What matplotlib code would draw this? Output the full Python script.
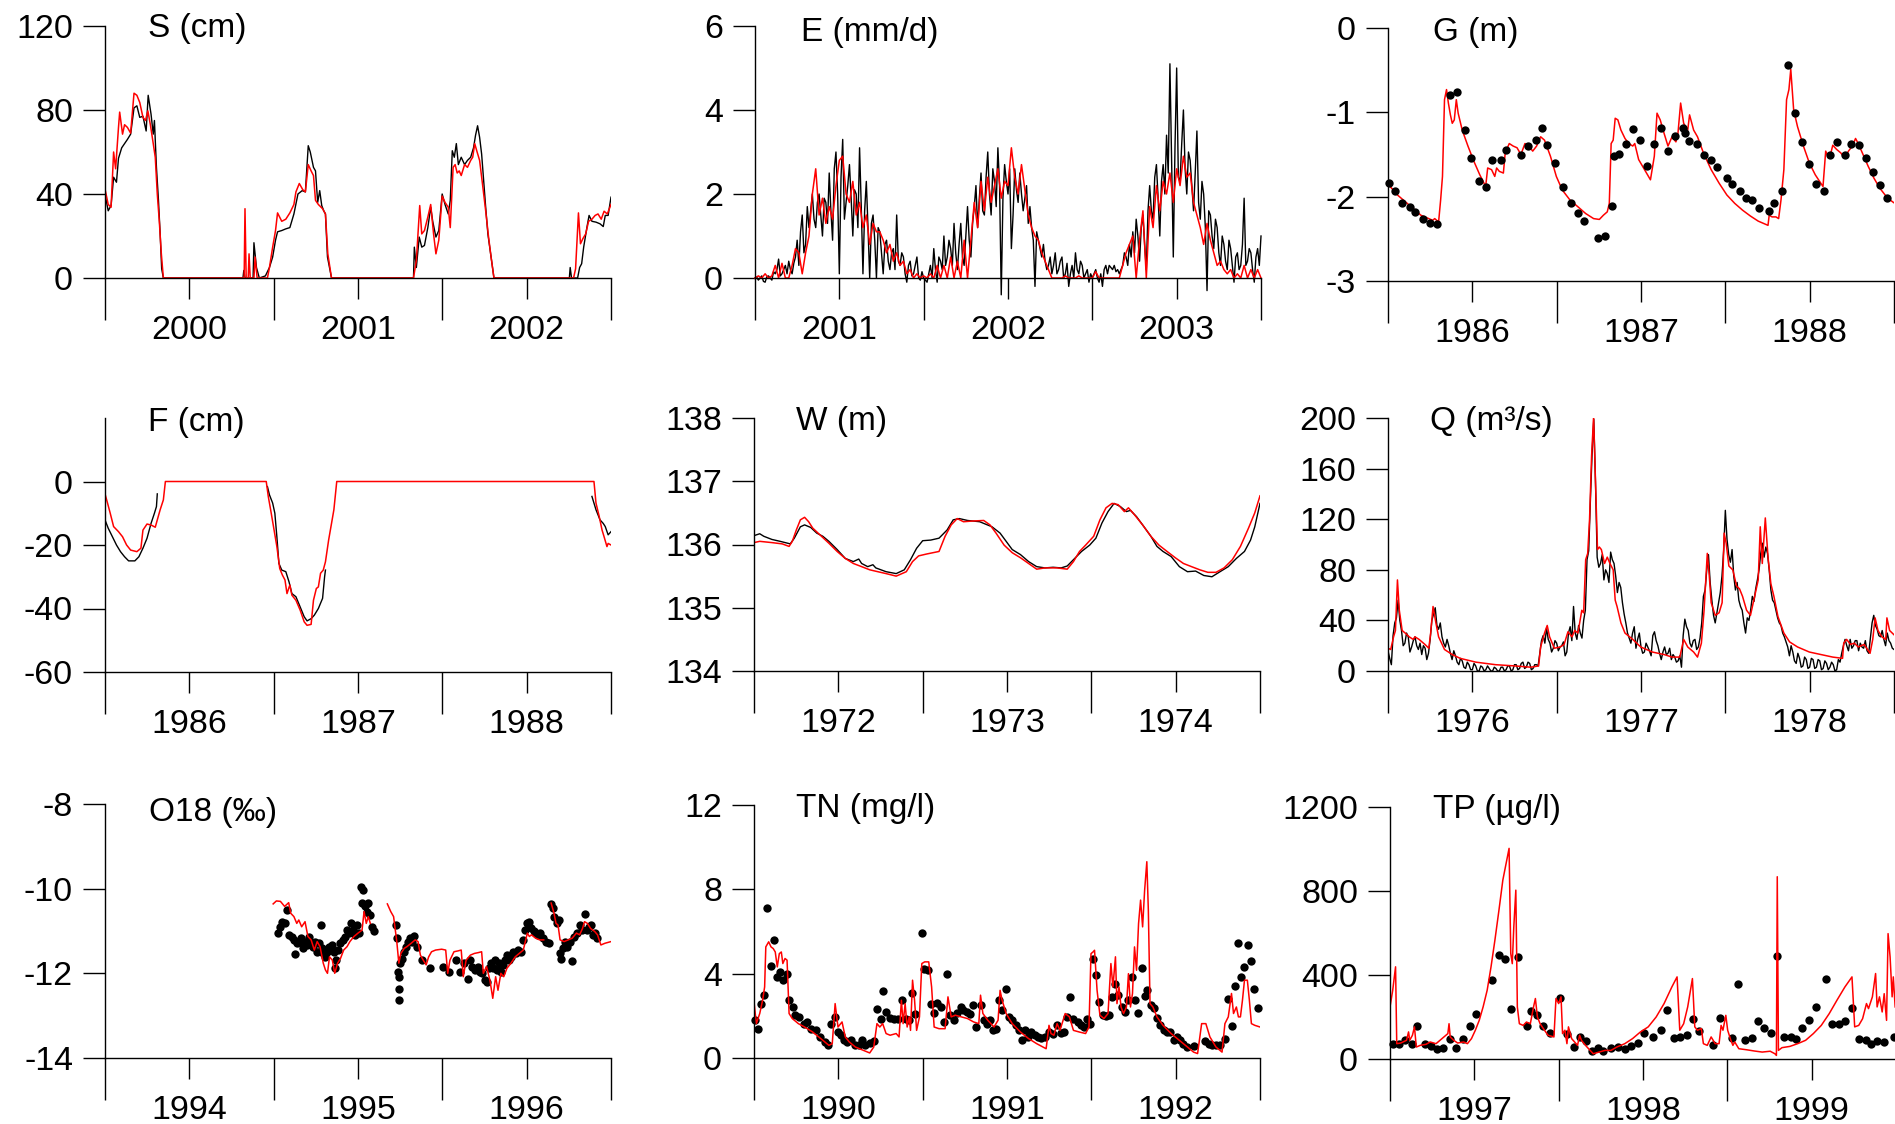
import numpy as np
import matplotlib
matplotlib.use("Agg")
import matplotlib.pyplot as plt
from matplotlib.ticker import NullLocator

plt.rcParams['font.family'] = ['Liberation Sans', 'DejaVu Sans']

NaN = float('nan')

# ---------------------------------------------------------------- data
# time = years since the first (left) year of each panel; value in panel units

# S (cm), 2000-2002
S_OBS = [(0.000,40),(0.019,32),(0.036,34.5),(0.051,48),(0.068,45.6),(0.080,57),(0.099,62),(0.116,64),(0.133,66),(0.152,68.5),
         (0.172,81),(0.189,82),(0.206,76.5),(0.225,77),(0.244,70),(0.256,87),(0.273,78),(0.286,68.5),(0.293,75),(0.305,52.7),
         (0.317,37),(0.327,21),(0.336,4.4),(0.346,0),
         (0.818,0),(0.823,3.6),(0.830,0),(0.878,0),(0.883,16.8),(0.898,5),(0.915,0),(0.951,1),(0.975,5),(0.994,10),
         (1.011,18),(1.023,22),(1.048,22.6),(1.072,23.4),(1.096,24),(1.120,30.5),(1.144,40),(1.169,41.6),(1.188,41),(1.205,63),
         (1.217,60),(1.236,52.7),(1.248,51),(1.261,36),(1.273,41.6),(1.285,34.5),(1.297,32),(1.307,30.5),(1.319,10),(1.343,0),
         (1.829,0),(1.834,14.7),(1.846,5),(1.863,19.5),(1.878,14.7),(1.894,15.5),(1.914,24),(1.931,33.7),(1.943,27),(1.962,19.5),
         (1.979,22.6),(1.999,40),(2.016,35),(2.035,30.5),(2.047,37),(2.059,60.6),(2.071,57.5),(2.083,64),(2.095,54),(2.112,57.5),
         (2.132,54),(2.149,56),(2.168,57.5),(2.185,62),(2.197,68),(2.209,72.5),(2.221,67),(2.233,59),(2.245,46.4),(2.257,33.7),
         (2.270,21),(2.289,10),(2.306,0),
         (2.753,0),(2.758,5),(2.766,0),(2.802,0),(2.814,5),(2.826,6.8),(2.838,14.7),(2.857,24),(2.870,29.8),(2.887,27),
         (2.911,26.6),(2.935,25.8),(2.954,24.5),(2.966,29.8),(2.983,29.8),(3.000,38.5)]
S_SIM = [(0.000,42.4),(0.019,35),(0.036,33.7),(0.051,60),(0.063,52),(0.080,71.7),(0.087,79),(0.104,68.5),(0.116,73),(0.133,71.7),
         (0.152,69),(0.172,88),(0.189,87),(0.206,83.6),(0.225,76.5),(0.240,75),(0.254,79.6),(0.269,73),(0.286,64),(0.298,57.5),
         (0.310,40),(0.322,27),(0.334,11.5),(0.346,0),
         (0.825,0),(0.830,33),(0.837,0),(0.849,0),(0.854,11.5),(0.861,0),(0.883,0),(0.890,10),(0.902,0),(0.963,0),
         (0.975,5),(0.994,14.7),(1.011,22.6),(1.023,31),(1.048,27),(1.072,28),(1.096,31),(1.120,35),(1.132,41),(1.152,45),
         (1.173,42),(1.188,41),(1.205,54),(1.222,51),(1.236,48.8),(1.248,37),(1.265,35),(1.290,33),(1.307,30.5),(1.321,11.5),(1.343,0),
         (1.829,0),(1.846,8.4),(1.866,34.5),(1.878,21),(1.894,22.6),(1.914,29),(1.931,35),(1.948,21),(1.962,11.5),(1.979,18),
         (1.999,39),(2.016,36),(2.035,33.7),(2.047,24),(2.064,52.7),(2.076,54),(2.088,50),(2.100,51),(2.112,48.8),(2.132,54),
         (2.149,52.7),(2.168,56),(2.180,57.5),(2.192,64),(2.204,60.6),(2.221,56),(2.238,44.8),(2.257,32),(2.274,19.5),(2.289,10),(2.306,0),
         (2.778,0),(2.790,4.4),(2.807,31),(2.819,16.3),(2.833,18.7),(2.850,21),(2.867,27),(2.887,28),(2.906,29.8),(2.923,30.5),
         (2.942,28),(2.959,31.8),(2.978,30.5),(3.000,35)]

# E (mm/d), 2001-2003; observed values every 0.01 yr, simulated every 0.02 yr
E_OBS = [0.0,0.02,-0.05,0.0,0.05,-0.08,-0.1,0.03,0.05,0.0,
         -0.05,0.15,0.1,0.2,0.45,0.05,0.1,0.2,0.3,0.1,
         0.4,0.2,0.1,0.35,0.5,0.9,0.3,1.1,1.5,0.6,
         0.8,1.7,1.2,1.6,2.0,1.4,1.2,1.8,2.0,1.5,
         1.0,1.9,1.8,1.3,2.5,1.6,0.9,2.6,3.0,2.0,
         0.1,2.4,3.3,1.4,1.8,2.2,2.7,1.9,1.0,2.1,
         2.0,1.2,3.1,1.7,0.1,1.6,2.3,1.2,0.0,1.3,
         1.5,0.9,0.0,1.2,1.1,0.6,0.1,0.8,0.9,0.4,
         0.2,0.6,0.7,0.2,1.5,0.4,0.3,0.6,0.5,0.1,
         -0.1,0.3,0.4,0.05,0.1,0.3,0.5,0.0,-0.05,0.15,
         0.0,-0.05,-0.1,0.1,0.3,0.0,0.7,0.2,-0.1,0.5,
         0.4,0.2,1.0,0.3,0.5,0.9,0.7,0.3,1.3,0.6,
         0.2,0.8,1.3,0.5,0.3,1.0,1.7,0.9,0.5,1.3,
         1.7,2.2,1.2,1.9,2.5,1.6,1.5,2.4,3.0,2.0,
         1.5,2.6,2.3,1.7,3.1,2.2,-0.4,1.9,2.7,2.3,
         2.0,2.6,0.7,1.5,2.6,2.1,1.8,2.5,2.0,1.6,
         1.9,2.2,1.3,1.7,1.2,0.9,-0.2,1.1,0.9,0.7,
         0.5,0.8,0.4,0.2,0.3,0.5,0.1,0.3,0.6,0.1,
         0.2,0.4,0.5,0.0,0.1,0.35,-0.2,0.1,0.3,0.0,
         0.6,0.2,0.1,0.4,0.3,0.0,0.1,0.2,-0.1,0.1,
         0.0,0.1,0.2,0.0,-0.1,0.1,-0.2,0.2,0.3,0.1,
         0.3,0.25,0.2,0.3,0.15,0.2,0.1,0.2,0.3,0.6,
         0.5,0.3,0.8,0.5,1.1,0.6,1.4,1.0,0.4,1.2,
         1.5,0.8,0.2,1.6,2.2,1.6,1.4,2.4,2.7,1.9,
         1.0,2.3,2.7,2.0,3.4,2.5,5.1,2.8,0.5,3.1,
         5.0,2.4,2.3,3.2,4.0,2.6,2.0,3.0,2.8,2.2,
         1.6,2.5,3.5,1.8,1.4,2.3,2.0,1.2,-0.3,1.6,
         1.5,1.0,0.7,1.4,1.2,0.6,0.3,1.0,0.8,0.4,
         0.2,0.9,0.7,0.3,-0.1,0.5,0.6,0.2,0.3,0.8,
         1.9,0.3,0.4,0.7,0.6,0.2,-0.1,0.5,0.7,0.3,
         1.0]
E_SIM = [0.0,0.05,0.0,0.1,0.0,0.05,0.3,0.0,0.35,0.0,
         0.0,0.3,0.7,0.6,0.1,0.6,1.0,2.0,2.6,1.5,
         1.9,1.3,1.7,1.4,2.2,2.8,2.9,2.0,1.8,2.3,
         1.5,1.8,1.2,1.5,0.8,1.3,1.1,1.1,0.9,0.6,
         0.8,0.4,0.6,0.3,0.4,0.1,0.2,0.0,0.1,0.0,
         0.05,0.0,0.1,0.0,0.3,0.0,0.3,0.0,0.5,0.0,
         0.4,0.0,0.9,0.0,0.9,1.8,1.2,2.3,1.6,2.4,
         1.8,2.2,2.6,1.9,2.3,2.2,3.1,2.4,2.0,2.7,
         2.1,1.5,1.2,1.0,0.9,0.6,0.4,0.2,0.0,0.0,
         0.0,0.0,0.05,0.0,0.0,0.0,0.05,0.0,0.0,0.0,
         0.0,0.15,0.0,0.0,0.0,0.0,0.0,0.0,0.0,0.3,
         0.6,0.8,1.0,0.0,0.9,1.6,0.0,1.7,1.2,2.2,
         1.6,2.3,2.0,2.5,1.8,2.6,2.2,2.9,2.4,2.5,
         1.8,1.5,1.2,0.8,1.3,0.9,0.6,0.3,0.4,0.2,
         0.1,0.2,0.0,0.1,0.0,0.3,0.0,0.2,0.0,0.2,
         0.0]

# G (m), 1986-1988
G_SIM = [(0.000,-1.85),(0.056,-1.98),(0.126,-2.10),(0.195,-2.22),(0.265,-2.28),(0.277,-2.26),(0.300,-2.30),(0.312,-2.04),
         (0.323,-1.76),(0.335,-0.85),(0.347,-0.73),(0.358,-0.89),(0.370,-1.03),(0.381,-1.13),(0.393,-1.09),(0.405,-0.85),
         (0.416,-1.01),(0.440,-1.21),(0.474,-1.40),(0.509,-1.58),(0.544,-1.74),(0.579,-1.88),(0.591,-1.66),(0.614,-1.68),
         (0.633,-1.76),(0.644,-1.66),(0.660,-1.70),(0.684,-1.72),(0.695,-1.48),(0.719,-1.37),(0.742,-1.40),(0.765,-1.42),
         (0.788,-1.50),(0.812,-1.37),(0.835,-1.40),(0.858,-1.46),(0.881,-1.40),(0.905,-1.29),(0.928,-1.33),(0.963,-1.52),
         (0.998,-1.76),(1.033,-1.92),(1.079,-2.04),(1.126,-2.12),(1.172,-2.20),(1.219,-2.26),(1.253,-2.27),(1.277,-2.22),
         (1.300,-2.18),(1.312,-2.08),(1.323,-1.37),(1.335,-1.33),(1.347,-1.07),(1.363,-1.09),(1.381,-1.21),(1.405,-1.31),
         (1.428,-1.37),(1.451,-1.40),(1.463,-1.37),(1.486,-1.56),(1.521,-1.68),(1.556,-1.80),(1.579,-1.52),(1.595,-1.01),
         (1.614,-1.09),(1.637,-1.25),(1.660,-1.40),(1.684,-1.29),(1.707,-1.35),(1.719,-1.25),(1.735,-0.89),(1.753,-1.13),
         (1.777,-1.21),(1.788,-1.03),(1.812,-1.21),(1.835,-1.29),(1.870,-1.48),(1.916,-1.68),(1.963,-1.84),(2.009,-1.98),
         (2.056,-2.08),(2.102,-2.16),(2.149,-2.23),(2.195,-2.29),(2.253,-2.34),(2.260,-2.22),(2.277,-2.24),(2.300,-2.24),
         (2.316,-2.26),(2.330,-2.04),(2.347,-1.68),(2.363,-0.85),(2.377,-0.73),(2.388,-0.49),(2.405,-0.97),(2.428,-1.17),
         (2.463,-1.40),(2.498,-1.60),(2.533,-1.74),(2.579,-1.88),(2.595,-1.46),(2.609,-1.52),(2.626,-1.48),(2.637,-1.39),
         (2.660,-1.44),(2.684,-1.48),(2.707,-1.54),(2.730,-1.46),(2.753,-1.40),(2.772,-1.31),(2.788,-1.37),(2.812,-1.48),
         (2.847,-1.64),(2.881,-1.78),(2.916,-1.90),(2.963,-2.02),(3.005,-2.08)]
G_OBS = [(0.007,-1.84),(0.044,-1.93),(0.081,-2.07),(0.128,-2.12),(0.158,-2.18),(0.207,-2.26),(0.247,-2.31),(0.288,-2.33),
         (0.370,-0.80),(0.409,-0.76),(0.456,-1.21),(0.493,-1.54),(0.537,-1.81),(0.581,-1.89),(0.619,-1.56),(0.672,-1.57),
         (0.702,-1.45),(0.786,-1.50),(0.830,-1.40),(0.877,-1.33),(0.914,-1.19),(0.944,-1.39),(0.993,-1.60),(1.037,-1.89),
         (1.086,-2.08),(1.126,-2.19),(1.163,-2.29),(1.244,-2.49),(1.284,-2.47),(1.328,-2.11),(1.342,-1.52),(1.367,-1.49),
         (1.414,-1.37),(1.453,-1.20),(1.495,-1.33),(1.535,-1.64),(1.577,-1.38),(1.616,-1.18),(1.660,-1.46),(1.702,-1.28),
         (1.751,-1.18),(1.763,-1.24),(1.786,-1.34),(1.833,-1.37),(1.872,-1.50),(1.916,-1.56),(1.953,-1.65),(2.007,-1.78),
         (2.040,-1.85),(2.084,-1.93),(2.123,-2.01),(2.160,-2.04),(2.200,-2.13),(2.260,-2.17),(2.288,-2.07),(2.335,-1.93),
         (2.374,-0.44),(2.416,-1.01),(2.456,-1.35),(2.498,-1.61),(2.537,-1.85),(2.584,-1.93),(2.623,-1.50),(2.663,-1.35),
         (2.707,-1.51),(2.744,-1.37),(2.791,-1.39),(2.833,-1.54),(2.874,-1.71),(2.916,-1.86),(2.958,-2.01)]

# F (cm), 1986-1988
F_OBS = [(0.000,-12.1),(0.019,-14.7),(0.044,-17.4),(0.068,-20.0),(0.092,-22.1),(0.116,-23.7),(0.140,-25.0),(0.177,-25.0),
         (0.201,-23.7),(0.225,-21.0),(0.249,-17.9),(0.273,-13.2),(0.293,-10.0),(0.305,-7.9),(0.310,-3.9),(0.311,NaN),
         (0.963,-1.6),(0.975,-4.2),(0.994,-6.8),(1.007,-10.0),(1.019,-17.4),(1.031,-25.8),(1.048,-27.9),(1.072,-28.4),
         (1.091,-31.6),(1.108,-35.3),(1.132,-36.3),(1.157,-39.5),(1.181,-42.6),(1.198,-43.9),(1.222,-43.2),(1.241,-42.1),
         (1.265,-40.0),(1.290,-36.8),(1.302,-30.0),(1.307,-27.9),(1.308,NaN),
         (2.887,-4.7),(2.911,-8.9),(2.935,-12.1),(2.954,-13.2),(2.966,-14.2),(2.983,-16.8),(3.000,-15.8)]
F_SIM = [(0.000,-3.9),(0.015,-6.8),(0.031,-10.0),(0.051,-14.2),(0.080,-15.8),(0.104,-17.4),(0.128,-20.0),(0.152,-21.6),
         (0.189,-22.1),(0.213,-21.0),(0.225,-15.3),(0.249,-13.4),(0.273,-13.7),(0.298,-14.4),(0.310,-12.1),(0.327,-8.9),
         (0.346,-5.8),(0.358,0.0),(0.956,0.0),(0.968,-4.7),(0.982,-8.9),(0.999,-14.2),(1.019,-20.5),(1.036,-27.4),
         (1.052,-29.5),(1.067,-31.0),(1.079,-35.3),(1.096,-32.6),(1.108,-35.8),(1.132,-37.4),(1.157,-40.5),(1.181,-44.2),
         (1.198,-45.3),(1.222,-45.0),(1.236,-37.4),(1.253,-33.7),(1.265,-33.2),(1.278,-28.9),(1.294,-27.9),(1.307,-25.3),
         (1.326,-18.4),(1.343,-13.2),(1.357,-8.9),(1.374,0.0),(2.899,0.0),(2.911,-6.8),(2.930,-11.0),(2.947,-15.3),
         (2.959,-17.4),(2.976,-20.5),(2.983,-19.5),(3.000,-20.0)]

# W (m), 1972-1974
W_OBS = [(0.000,136.14),(0.034,136.17),(0.058,136.13),(0.106,136.08),(0.155,136.05),(0.215,136.01),(0.239,136.10),(0.275,136.28),
         (0.300,136.31),(0.336,136.27),(0.372,136.18),(0.408,136.13),(0.444,136.05),(0.493,135.92),(0.541,135.78),(0.589,135.73),
         (0.621,135.77),(0.638,135.70),(0.674,135.65),(0.705,135.68),(0.722,135.63),(0.783,135.57),(0.843,135.54),(0.867,135.57),
         (0.891,135.60),(0.928,135.76),(0.964,135.94),(1.000,136.06),(1.048,136.07),(1.097,136.10),(1.145,136.23),(1.181,136.39),
         (1.217,136.41),(1.266,136.38),(1.338,136.36),(1.411,136.28),(1.459,136.18),(1.495,136.05),(1.531,135.92),(1.580,135.84),
         (1.628,135.73),(1.676,135.65),(1.725,135.63),(1.773,135.64),(1.821,135.63),(1.857,135.66),(1.894,135.76),(1.942,135.89),
         (1.990,135.99),(2.027,136.10),(2.063,136.34),(2.099,136.52),(2.135,136.65),(2.172,136.60),(2.208,136.52),(2.232,136.54),
         (2.268,136.44),(2.304,136.31),(2.353,136.13),(2.389,135.97),(2.425,135.89),(2.473,135.81),(2.522,135.65),(2.570,135.57),
         (2.618,135.58),(2.667,135.51),(2.715,135.49),(2.763,135.57),(2.812,135.65),(2.860,135.78),(2.908,135.89),(2.944,136.07),
         (2.969,136.28),(3.000,136.65)]
W_SIM = [(0.000,136.03),(0.034,136.05),(0.106,136.03),(0.167,136.01),(0.208,135.97),(0.227,136.05),(0.251,136.23),(0.275,136.39),
         (0.300,136.43),(0.324,136.36),(0.348,136.26),(0.396,136.14),(0.444,136.02),(0.493,135.89),(0.541,135.78),(0.589,135.70),
         (0.638,135.65),(0.686,135.60),(0.734,135.57),(0.783,135.54),(0.843,135.50),(0.903,135.57),(0.940,135.73),(0.976,135.82),
         (1.024,135.85),(1.097,135.89),(1.133,136.13),(1.169,136.31),(1.205,136.41),(1.242,136.36),(1.290,136.37),(1.362,136.38),
         (1.399,136.31),(1.435,136.18),(1.483,135.99),(1.531,135.87),(1.580,135.79),(1.628,135.70),(1.676,135.61),(1.725,135.63),
         (1.797,135.63),(1.857,135.61),(1.894,135.73),(1.930,135.89),(1.966,135.99),(2.014,136.13),(2.051,136.39),(2.087,136.58),
         (2.123,136.65),(2.159,136.63),(2.196,136.52),(2.220,136.58),(2.256,136.47),(2.304,136.31),(2.353,136.13),(2.401,135.99),
         (2.449,135.89),(2.498,135.79),(2.546,135.70),(2.594,135.65),(2.643,135.60),(2.691,135.56),(2.739,135.56),(2.787,135.63),
         (2.836,135.76),(2.884,135.97),(2.932,136.26),(2.969,136.50),(3.000,136.77)]

# Q (m3/s), 1976-1978; observed values every 0.01 yr
Q_OBS = [16,10,5,28,38,42,56,40,32,20,
         22,30,27,15,19,24,27,20,17,22,
         13,20,18,9,14,25,40,45,50,36,
         33,38,27,22,19,25,20,14,9,16,
         12,7,5,10,8,3,2,7,5,1,
         1,6,4,0,0,4,3,0,1,4,
         2,0,0,3,2,0,0,3,3,0,
         1,4,4,0,1,5,5,1,2,6,
         7,2,3,7,6,1,2,5,5,4,
         14,24,28,22,34,25,22,15,18,24,
         22,16,19,20,23,12,15,30,35,24,
         51,30,25,36,30,26,40,48,88,95,
         135,172,199,150,90,82,85,92,72,80,
         77,70,94,88,85,75,62,70,66,54,
         45,38,30,26,22,30,35,18,25,30,
         19,14,15,22,19,16,12,28,31,24,
         20,14,9,15,19,13,14,18,9,13,
         11,7,8,12,3,28,41,35,32,22,
         19,24,25,17,19,26,38,59,64,80,
         92,70,56,44,38,46,54,62,75,95,
         127,104,92,86,96,75,64,70,56,51,
         48,38,30,42,40,48,59,55,65,72,
         80,93,101,90,98,93,80,64,56,54,
         48,42,38,36,30,27,23,19,12,20,
         15,8,6,14,10,3,4,11,9,2,
         3,10,9,2,3,9,8,1,2,8,
         6,1,3,7,5,0,1,9,7,14,
         20,25,20,16,25,18,20,24,24,16,
         22,19,18,24,16,14,26,38,44,36,
         33,28,27,32,25,20,30,24,22,18,
         17]
Q_SIM = [(0.000,18),(0.016,17),(0.033,27),(0.044,32),(0.056,72),(0.067,48),(0.084,32),(0.102,30),(0.126,27),(0.149,25),
         (0.160,27),(0.184,25),(0.219,21),(0.242,18),(0.253,30),(0.267,51),(0.284,38),(0.300,27),(0.335,17),(0.381,13),
         (0.428,10),(0.521,7),(0.637,5),(0.753,4),(0.847,3),(0.893,4),(0.905,19),(0.928,30),(0.944,36),(0.958,27),
         (0.986,18),(1.021,19),(1.044,21),(1.067,31),(1.091,27),(1.107,32),(1.126,30),(1.149,48),(1.160,46),(1.172,88),
         (1.184,93),(1.195,120),(1.207,170),(1.219,201),(1.230,151),(1.242,96),(1.253,98),(1.265,96),(1.284,85),(1.300,90),
         (1.316,85),(1.335,80),(1.347,56),(1.358,51),(1.381,38),(1.405,30),(1.451,25),(1.498,19),(1.567,15),(1.637,13),
         (1.684,11),(1.730,11),(1.753,25),(1.777,19),(1.812,15),(1.835,11),(1.858,22),(1.874,48),(1.893,93),(1.905,75),
         (1.916,54),(1.940,44),(1.963,46),(1.981,54),(1.993,109),(2.005,101),(2.021,83),(2.044,80),(2.067,67),(2.084,65),
         (2.102,59),(2.126,48),(2.149,44),(2.177,61),(2.195,72),(2.207,114),(2.219,85),(2.237,121),(2.253,90),(2.270,69),
         (2.288,59),(2.312,43),(2.347,30),(2.381,23),(2.428,19),(2.498,15),(2.567,13),(2.637,11),(2.695,10),(2.702,22),
         (2.719,25),(2.742,21),(2.765,22),(2.788,19),(2.823,21),(2.858,14),(2.874,25),(2.888,42),(2.905,32),(2.928,27),
         (2.951,25),(2.958,42),(2.974,32),(3.005,28)]

# O18 (permil), 1994-1996
O18_SIM = [(0.997,-10.36),(1.016,-10.29),(1.040,-10.30),(1.065,-10.42),(1.089,-10.33),(1.101,-10.58),(1.120,-10.66),(1.137,-10.82),
           (1.149,-10.74),(1.166,-10.90),(1.186,-10.78),(1.203,-11.13),(1.222,-11.21),(1.241,-11.45),(1.258,-11.25),(1.275,-11.37),
           (1.294,-11.76),(1.307,-11.92),(1.319,-12.00),(1.331,-11.61),(1.348,-11.69),(1.362,-12.00),(1.379,-11.76),(1.396,-11.65),
           (1.415,-11.45),(1.435,-11.37),(1.452,-11.25),(1.476,-11.13),(1.500,-11.05),(1.524,-10.98),(1.536,-10.54),(1.549,-10.82),
           (1.561,-10.66),(1.573,-10.82),(1.574,NaN),
           (1.674,-10.36),(1.694,-10.54),(1.711,-10.66),(1.730,-11.25),(1.742,-11.76),(1.754,-11.53),(1.774,-11.41),(1.790,-11.37),
           (1.815,-11.29),(1.839,-11.21),(1.856,-11.25),(1.870,-11.57),(1.887,-11.69),(1.904,-11.80),(1.919,-11.61),(1.936,-11.49),
           (1.960,-11.45),(1.996,-11.43),(2.020,-11.45),(2.032,-12.00),(2.045,-11.69),(2.069,-11.49),(2.093,-11.47),(2.112,-11.45),
           (2.124,-12.08),(2.141,-11.69),(2.166,-11.57),(2.190,-11.53),(2.214,-11.51),(2.233,-11.49),(2.243,-12.00),(2.262,-11.84),
           (2.282,-12.16),(2.299,-12.59),(2.316,-12.08),(2.330,-12.40),(2.347,-12.00),(2.364,-12.08),(2.383,-11.88),(2.407,-11.76),
           (2.432,-11.61),(2.456,-11.53),(2.480,-11.45),(2.492,-11.25),(2.504,-11.05),(2.516,-11.13),(2.528,-11.09),(2.553,-11.17),
           (2.577,-11.21),(2.601,-11.21),(2.602,NaN),
           (2.645,-10.34),(2.662,-10.58),(2.674,-10.82),(2.686,-10.86),(2.698,-11.21),(2.722,-11.25),(2.746,-11.21),(2.770,-11.17),
           (2.795,-11.05),(2.814,-11.09),(2.831,-10.94),(2.843,-10.78),(2.860,-10.82),(2.879,-10.94),(2.903,-11.01),(2.920,-11.09),
           (2.940,-11.33),(2.964,-11.29),(3.000,-11.25)]
O18_OBS = [(1.023,-11.05),(1.036,-10.90),(1.048,-10.78),(1.065,-10.82),(1.077,-10.50),(1.089,-11.09),(1.106,-11.13),(1.120,-11.21),
           (1.125,-11.55),(1.137,-11.29),(1.149,-11.25),(1.161,-11.17),(1.173,-11.41),(1.186,-11.25),(1.198,-11.33),(1.210,-11.13),
           (1.222,-11.29),(1.234,-11.37),(1.246,-11.25),(1.258,-11.49),(1.270,-11.29),(1.278,-10.87),(1.287,-11.41),(1.294,-11.53),
           (1.307,-11.61),(1.319,-11.49),(1.331,-11.37),(1.343,-11.33),(1.355,-11.49),(1.362,-11.88),(1.372,-11.69),(1.384,-11.45),
           (1.396,-11.29),(1.411,-11.21),(1.423,-11.13),(1.435,-10.98),(1.447,-11.05),(1.459,-10.82),(1.471,-10.98),(1.483,-11.09),
           (1.495,-10.86),(1.507,-11.05),(1.515,-9.97),(1.522,-10.34),(1.532,-10.03),(1.544,-10.42),(1.553,-10.54),(1.561,-10.34),
           (1.573,-10.62),(1.585,-10.90),(1.592,-11.01),
           (1.725,-10.86),(1.730,-11.17),(1.735,-11.96),(1.742,-12.08),(1.742,-12.38),(1.742,-12.63),(1.749,-11.76),(1.759,-11.65),
           (1.771,-11.49),(1.783,-11.37),(1.795,-11.25),(1.807,-11.17),(1.822,-11.25),(1.834,-11.12),(1.851,-11.37),(1.882,-11.69),
           (1.924,-11.88),(2.001,-11.86),(2.040,-11.98),(2.081,-11.69),(2.105,-11.96),(2.129,-11.76),(2.153,-12.14),(2.166,-11.69),
           (2.178,-11.84),(2.195,-11.92),(2.209,-11.84),(2.226,-11.96),(2.238,-12.00),(2.250,-12.16),(2.262,-12.20),(2.274,-11.88),
           (2.286,-11.76),(2.299,-11.88),(2.311,-11.69),(2.323,-11.92),(2.335,-11.76),(2.347,-11.96),(2.359,-11.80),(2.371,-11.69),
           (2.383,-11.57),(2.395,-11.69),(2.407,-11.61),(2.420,-11.49),(2.436,-11.53),(2.451,-11.45),(2.468,-11.49),(2.480,-11.21),
           (2.492,-10.98),(2.504,-10.82),(2.516,-10.78),(2.528,-10.94),(2.541,-11.01),(2.553,-11.05),(2.565,-11.09),(2.577,-11.05),
           (2.596,-11.17),(2.613,-11.25),(2.630,-11.29),
           (2.645,-10.36),(2.654,-10.46),(2.662,-10.66),(2.678,-10.82),(2.693,-10.74),(2.698,-11.53),(2.703,-11.65),(2.715,-11.41),
           (2.727,-11.25),(2.741,-11.37),(2.758,-11.25),(2.770,-11.71),(2.783,-11.13),(2.799,-11.05),(2.814,-10.86),(2.831,-10.98),
           (2.843,-10.60),(2.855,-10.98),(2.867,-10.90),(2.879,-10.86),(2.891,-11.09),(2.903,-11.05),(2.916,-11.17)]

# TN (mg/l), 1990-1992
TN_SIM = [(0.000,2.66),(0.014,1.63),(0.034,2.11),(0.051,2.74),(0.063,3.37),(0.070,5.27),(0.087,5.51),(0.101,5.27),(0.114,5.19),
          (0.126,5.03),(0.138,4.32),(0.150,4.95),(0.162,5.03),(0.171,4.48),(0.184,4.72),(0.196,4.64),(0.208,2.11),(0.227,1.87),
          (0.263,1.63),(0.300,1.47),(0.348,1.23),(0.396,0.92),(0.444,0.60),(0.464,0.68),(0.481,2.58),(0.498,1.47),(0.522,1.71),
          (0.541,1.00),(0.565,0.76),(0.601,0.52),(0.650,0.36),(0.686,0.24),(0.710,0.52),(0.729,1.63),(0.746,1.47),(0.763,1.63),
          (0.783,1.16),(0.807,1.08),(0.843,1.16),(0.860,1.00),(0.874,2.74),(0.884,1.63),(0.896,2.58),(0.908,1.47),(0.920,1.95),
          (0.928,1.31),(0.940,3.69),(0.952,2.74),(0.964,1.31),(0.981,1.95),(0.995,4.48),(1.012,4.56),(1.036,4.56),(1.053,3.37),
          (1.068,1.47),(1.097,1.39),(1.133,1.39),(1.150,2.90),(1.169,1.95),(1.193,2.03),(1.229,1.95),(1.266,1.87),(1.302,1.71),
          (1.333,1.63),(1.343,2.98),(1.357,2.11),(1.386,1.79),(1.423,1.47),(1.447,1.79),(1.459,3.21),(1.471,2.74),(1.495,2.11),
          (1.531,1.63),(1.580,1.23),(1.628,0.92),(1.676,0.68),(1.732,0.44),(1.749,1.55),(1.761,1.16),(1.778,1.08),(1.797,1.63),
          (1.814,1.31),(1.833,1.79),(1.845,2.11),(1.870,1.95),(1.894,1.31),(1.930,1.23),(1.966,1.16),(1.986,1.47),(1.998,4.95),
          (2.010,5.03),(2.019,5.11),(2.034,3.21),(2.051,2.03),(2.075,1.87),(2.099,2.11),(2.116,4.48),(2.128,3.37),(2.143,4.80),
          (2.152,2.58),(2.164,3.37),(2.176,2.42),(2.191,2.11),(2.208,2.42),(2.220,4.00),(2.232,2.42),(2.244,3.06),(2.256,5.27),
          (2.268,4.16),(2.280,6.38),(2.292,7.49),(2.304,6.22),(2.316,7.96),(2.329,9.31),(2.338,7.01),(2.348,2.58),(2.365,2.42),
          (2.389,1.95),(2.425,1.55),(2.473,1.16),(2.522,0.84),(2.570,0.52),(2.606,0.28),(2.630,0.21),(2.654,1.63),(2.679,1.63),
          (2.703,1.00),(2.739,0.52),(2.775,0.28),(2.792,1.63),(2.812,1.95),(2.831,3.06),(2.843,2.11),(2.860,2.42),(2.872,1.95),
          (2.884,1.95),(2.896,2.74),(2.908,3.69),(2.925,3.69),(2.937,2.74),(2.949,1.63),(2.969,1.55),(3.000,1.47)]
TN_OBS = [(0.005,1.79),(0.022,1.39),(0.041,2.58),(0.058,2.98),(0.075,7.12),(0.099,4.35),(0.116,5.59),(0.135,3.85),(0.155,4.08),
          (0.171,3.69),(0.193,4.00),(0.210,2.74),(0.232,2.42),(0.246,2.03),(0.266,1.95),(0.295,1.63),(0.312,1.71),(0.336,1.39),
          (0.367,1.31),(0.391,1.00),(0.420,0.76),(0.440,0.60),(0.459,1.63),(0.478,1.95),(0.498,1.23),(0.517,1.08),(0.536,0.84),
          (0.553,0.76),(0.577,0.84),(0.601,0.60),(0.621,0.60),(0.638,0.84),(0.657,0.60),(0.686,0.71),(0.710,0.79),(0.732,2.34),
          (0.751,1.87),(0.766,3.18),(0.785,2.18),(0.807,1.90),(0.831,1.87),(0.855,1.87),(0.879,2.74),(0.899,1.87),(0.918,1.82),
          (0.935,3.06),(0.952,2.11),(0.998,5.94),(1.010,4.24),(1.029,4.16),(1.048,2.58),(1.068,2.14),(1.087,2.61),(1.109,2.42),
          (1.126,1.71),(1.145,4.00),(1.164,2.03),(1.184,1.79),(1.203,2.14),(1.225,2.42),(1.242,2.26),(1.261,2.18),(1.278,2.11),
          (1.300,2.50),(1.319,1.47),(1.343,2.50),(1.362,1.79),(1.382,1.63),(1.399,1.79),(1.415,1.31),(1.435,1.39),(1.454,2.74),
          (1.473,2.26),(1.493,3.25),(1.512,1.95),(1.531,1.79),(1.551,1.55),(1.570,1.31),(1.589,0.84),(1.606,1.31),(1.626,1.00),
          (1.645,1.23),(1.664,1.08),(1.684,1.00),(1.703,0.97),(1.725,1.00),(1.749,1.23),(1.773,1.16),(1.797,1.58),(1.821,1.19),
          (1.836,1.23),(1.857,1.95),(1.874,2.90),(1.894,1.87),(1.918,1.71),(1.937,1.55),(1.954,1.47),(1.973,1.87),(1.990,1.63),
          (2.007,4.69),(2.029,3.93),(2.048,2.66),(2.068,2.03),(2.087,1.98),(2.106,2.03),(2.123,2.90),(2.140,3.53),(2.159,2.98),
          (2.179,2.42),(2.200,2.18),(2.220,2.74),(2.239,3.85),(2.256,2.77),(2.275,2.14),(2.300,4.29),(2.316,2.94),(2.333,3.21),
          (2.353,2.50),(2.372,2.39),(2.391,1.90),(2.408,1.55),(2.432,1.35),(2.449,1.23),(2.469,1.23),(2.488,0.87),(2.507,1.00),
          (2.527,0.84),(2.546,0.68),(2.570,0.52),(2.606,0.55),(2.676,0.79),(2.696,0.68),(2.715,0.60),(2.739,0.60),(2.763,0.60),
          (2.792,0.92),(2.812,2.80),(2.833,1.50),(2.850,3.40),(2.870,5.46),(2.889,3.85),(2.908,4.32),(2.928,5.35),(2.947,4.59),
          (2.966,3.29),(2.986,2.39)]

# TP (ug/l), 1997-1999
TP_SIM = [(0.000,248),(0.016,327),(0.033,439),(0.040,73),(0.063,76),(0.098,89),(0.110,129),(0.117,89),(0.133,113),(0.145,153),
          (0.156,57),(0.179,65),(0.214,70),(0.238,81),(0.273,73),(0.296,89),(0.319,105),(0.343,121),(0.350,168),(0.357,105),
          (0.378,89),(0.401,76),(0.436,81),(0.459,73),(0.483,97),(0.506,137),(0.529,184),(0.552,248),(0.576,327),(0.599,439),
          (0.622,566),(0.646,709),(0.669,852),(0.692,947),(0.706,1003),(0.716,502),(0.725,454),(0.734,629),(0.746,804),(0.755,248),
          (0.767,168),(0.790,160),(0.809,176),(0.832,168),(0.851,248),(0.862,288),(0.874,200),(0.890,168),(0.909,145),(0.937,113),
          (0.972,105),(0.984,288),(1.000,264),(1.014,296),(1.023,121),(1.037,137),(1.049,73),(1.058,153),(1.077,97),(1.112,65),
          (1.124,113),(1.135,89),(1.159,65),(1.205,25),(1.240,33),(1.275,41),(1.310,41),(1.345,57),(1.392,73),(1.438,97),
          (1.485,129),(1.531,153),(1.578,200),(1.625,264),(1.671,343),(1.702,391),(1.718,137),(1.741,168),(1.765,248),(1.793,383),
          (1.807,153),(1.823,137),(1.846,145),(1.858,73),(1.881,65),(1.904,105),(1.928,73),(1.951,73),(1.963,160),(1.974,137),
          (1.991,208),(2.002,137),(2.021,89),(2.033,65),(2.044,81),(2.068,49),(2.114,44),(2.161,38),(2.207,33),(2.254,37),
          (2.282,25),(2.291,17),(2.296,868),(2.303,41),(2.324,54),(2.371,60),(2.417,73),(2.464,89),(2.510,121),(2.557,160),
          (2.604,216),(2.650,280),(2.697,343),(2.739,391),(2.755,153),(2.779,160),(2.802,192),(2.825,264),(2.837,240),(2.860,296),
          (2.879,407),(2.888,248),(2.902,296),(2.918,224),(2.930,311),(2.944,184),(2.953,597),(2.965,486),(2.977,296),(2.984,391),
          (2.995,248)]
TP_OBS = [(0.016,70),(0.051,73),(0.091,89),(0.128,70),(0.163,159),(0.205,70),(0.242,60),(0.277,49),(0.315,54),(0.357,94),
          (0.394,54),(0.434,95),(0.473,157),(0.508,213),(0.606,375),(0.646,497),(0.683,475),(0.720,240),(0.758,486),(0.814,157),
          (0.834,229),(0.872,208),(0.907,157),(0.946,124),(1.009,289),(1.047,118),(1.089,57),(1.126,106),(1.161,84),(1.200,38),
          (1.235,52),(1.261,38),(1.312,54),(1.352,57),(1.392,48),(1.431,64),(1.469,75),(1.508,124),(1.557,106),(1.606,140),
          (1.643,235),(1.683,100),(1.720,106),(1.758,114),(1.797,192),(1.834,135),(1.914,68),(1.956,197),(2.026,100),(2.065,359),
          (2.103,92),(2.145,99),(2.182,180),(2.219,149),(2.259,122),(2.294,491),(2.336,106),(2.378,106),(2.410,94),(2.445,146),
          (2.487,186),(2.527,246),(2.587,383),(2.620,167),(2.660,167),(2.699,180),(2.739,245),(2.783,94),(2.821,91),(2.853,73),
          (2.890,86),(2.928,81),(2.988,105)]

# ---------------------------------------------------------------- figure
W_PX, H_PX = 1895, 1124
fig = plt.figure(figsize=(W_PX / 100, H_PX / 100), dpi=100)
fig.patch.set_facecolor('white')

TICK_FS = 24.5
TITLE_FS = 24


def make_ax(left, top, bottom, width=506):
    return fig.add_axes([left / W_PX, 1 - bottom / H_PX, width / W_PX, (bottom - top) / H_PX])


def setup(ax, year0, ylim, yticks):
    ax.set_xlim(0, 3)
    ax.set_ylim(*ylim)
    ax.set_facecolor('none')
    for s in ('top', 'right'):
        ax.spines[s].set_visible(False)
    for s in ('left', 'bottom'):
        ax.spines[s].set_linewidth(1.0)
    ax.set_xticks([0, 1, 2, 3])
    ax.set_xticklabels([])
    ax.set_xticks([0.5, 1.5, 2.5], minor=True)
    ax.set_xticklabels([str(year0 + i) for i in range(3)], minor=True)
    ax.set_yticks(yticks)
    ax.set_yticklabels([f'{v:g}' for v in yticks])
    ax.yaxis.set_minor_locator(NullLocator())
    ax.tick_params(axis='x', which='major', direction='out', length=30, width=1.0)
    ax.tick_params(axis='x', which='minor', direction='out', length=15, width=1.0,
                   pad=11.5, labelsize=TICK_FS)
    ax.tick_params(axis='y', which='major', direction='out', length=16, width=1.0,
                   pad=7, labelsize=TICK_FS)


def title(text, x_px, y_px):
    fig.text(x_px / W_PX, 1 - y_px / H_PX, text, fontsize=TITLE_FS,
             ha='left', va='baseline')


def pairs(seq):
    arr = np.array(seq, dtype=float)
    return arr[:, 0], arr[:, 1]


def line(ax, seq, color, lw=1.0, clip=True):
    t, v = pairs(seq)
    ax.plot(t, v, color=color, lw=lw, clip_on=clip)


def dots(ax, seq):
    t, v = pairs(seq)
    ax.plot(t, v, 'o', color='black', ms=6.0, mew=0, clip_on=False)


RED = '#ff0000'

# S
ax = make_ax(105, 26, 278)
setup(ax, 2000, (0, 120), [0, 40, 80, 120])
line(ax, S_OBS, 'black')
line(ax, S_SIM, RED, 1.1)
title('S (cm)', 148, 37)

# E
ax = make_ax(755, 26, 278)
setup(ax, 2001, (0, 6), [0, 2, 4, 6])
ax.plot(np.linspace(0, 3, len(E_OBS)), E_OBS, color='black', lw=1.0, clip_on=False)
ax.plot(np.linspace(0, 3, len(E_SIM)), E_SIM, color=RED, lw=1.1, clip_on=False)
title('E (mm/d)', 801, 41)

# G
ax = make_ax(1388, 28, 281)
setup(ax, 1986, (-3, 0), [-3, -2, -1, 0])
line(ax, G_SIM, RED, 1.1)
dots(ax, G_OBS)
title('G (m)', 1433, 41)

# F
ax = make_ax(105, 418, 672)
setup(ax, 1986, (-60, 20), [-60, -40, -20, 0])
line(ax, F_OBS, 'black')
line(ax, F_SIM, RED, 1.1)
title('F (cm)', 148, 431)

# W
ax = make_ax(754, 418, 671)
setup(ax, 1972, (134, 138), [134, 135, 136, 137, 138])
line(ax, W_OBS, 'black')
line(ax, W_SIM, RED, 1.1)
title('W (m)', 796, 430)

# Q
ax = make_ax(1388, 418, 671)
setup(ax, 1976, (0, 200), [0, 40, 80, 120, 160, 200])
ax.plot(np.linspace(0, 3, len(Q_OBS)), Q_OBS, color='black', lw=1.0)
line(ax, Q_SIM, RED, 1.1)
title('Q (m³/s)', 1430, 430)

# O18
ax = make_ax(105, 804, 1058)
setup(ax, 1994, (-14, -8), [-14, -12, -10, -8])
dots(ax, O18_OBS)
line(ax, O18_SIM, RED, 1.1)
title('O18 (‰)', 149, 821)

# TN
ax = make_ax(754, 805, 1058)
setup(ax, 1990, (0, 12), [0, 4, 8, 12])
dots(ax, TN_OBS)
line(ax, TN_SIM, RED, 1.1)
title('TN (mg/l)', 796, 817)

# TP
ax = make_ax(1390, 807, 1059)
setup(ax, 1997, (0, 1200), [0, 400, 800, 1200])
dots(ax, TP_OBS)
line(ax, TP_SIM, RED, 1.1)
title('TP (µg/l)', 1433, 818)

fig.savefig('out.png', dpi=100, facecolor='white')
